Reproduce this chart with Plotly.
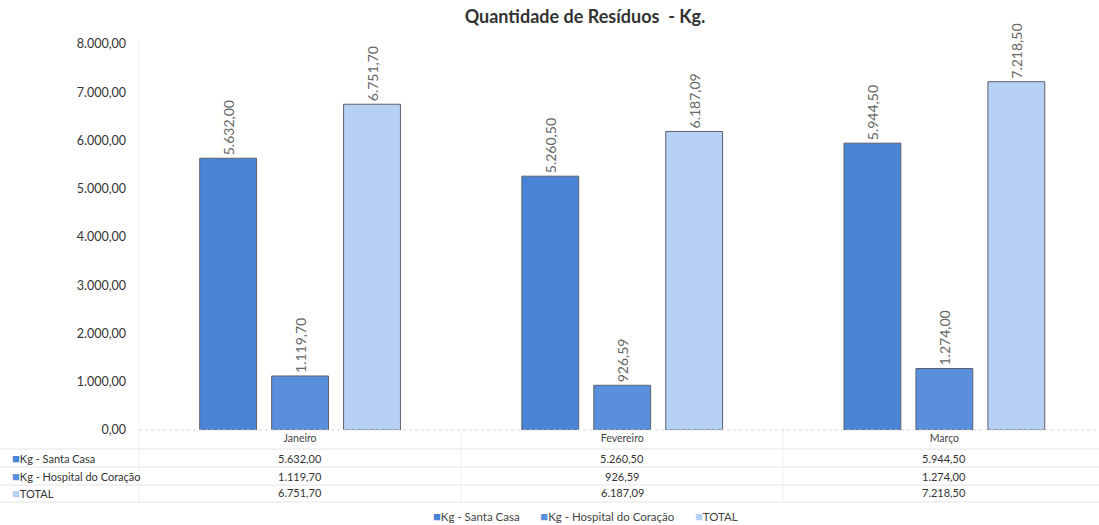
import plotly.graph_objects as go

categories = ["Janeiro", "Fevereiro", "Março"]
santa_casa = [5632.00, 5260.50, 5944.50]
hospital_coracao = [1119.70, 926.59, 1274.00]
total = [6751.70, 6187.09, 7218.50]
series_names = ["Kg - Santa Casa", "Kg - Hospital do Coração", "TOTAL"]
series_values = [santa_casa, hospital_coracao, total]
tick_vals = [0, 1000, 2000, 3000, 4000, 5000, 6000, 7000, 8000]
title_text = "Quantidade de Resíduos  - Kg."

colors = ["#4a84d6", "#5a8fdc", "#b6d1f4"]
FONT = "Lato, 'Open Sans', sans-serif"

W, H = 1099, 525
ML, MR, MT, MB = 139, 0, 44, 95
plot_h = H - MT - MB


def py(pix):
    """pixel y (from top) -> paper y"""
    return (H - MB - pix) / plot_h


def px(pix):
    return (pix - ML) / (W - ML - MR)


def fmt(v):
    s = f"{v:,.2f}"
    return s.replace(",", "X").replace(".", ",").replace("X", ".")


def swatch(col):
    return f"<span style='color:{col};font-size:13px'>■</span>"


fig = go.Figure()
for name, vals, col in zip(series_names, series_values, colors):
    fig.add_trace(go.Bar(
        x=categories, y=vals, name=name,
        marker=dict(color=col, line=dict(color="#5a6070", width=1)),
        text=[fmt(v) for v in vals], textposition="outside",
        textangle=-90, cliponaxis=False,
        textfont=dict(size=14, color="#666666", family=FONT),
    ))

annotations = []
row_y = [458, 476, 493]
for i, (name, vals, col) in enumerate(zip(series_names, series_values, colors)):
    annotations.append(dict(
        x=px(10), y=py(row_y[i]), xref="paper", yref="paper",
        xanchor="left", yanchor="middle", showarrow=False,
        text=f"{swatch(col)}{name}",
        font=dict(size=11, color="#333333", family=FONT),
    ))
    for c, v in zip(categories, vals):
        annotations.append(dict(
            x=c, y=py(row_y[i]), xref="x", yref="paper",
            xanchor="center", yanchor="middle", showarrow=False,
            text=fmt(v), font=dict(size=11, color="#333333", family=FONT),
        ))

# legend as text row
gap = "&nbsp;" * 7
legend_txt = gap.join(f"{swatch(c)}{n}" for n, c in zip(series_names, colors))
annotations.append(dict(
    x=px(585), y=py(516), xref="paper", yref="paper",
    xanchor="center", yanchor="middle", showarrow=False,
    text=legend_txt, font=dict(size=11.5, color="#444444", family=FONT),
))

shapes = []
for yy in [449, 467, 485, 502]:
    shapes.append(dict(type="line", xref="paper", yref="paper",
                       x0=px(0), x1=1, y0=py(yy), y1=py(yy),
                       line=dict(color="#e4e4e4", width=1)))
shapes.append(dict(type="line", xref="paper", yref="paper",
                   x0=0, x1=0, y0=py(502), y1=py(40),
                   line=dict(color="#eeeeee", width=1)))
for xx in [461, 783]:
    shapes.append(dict(type="line", xref="paper", yref="paper",
                       x0=px(xx), x1=px(xx), y0=py(502), y1=py(430),
                       line=dict(color="#f0f0f0", width=1)))
shapes.append(dict(type="line", xref="paper", yref="paper",
                   x0=0, x1=1, y0=0, y1=0,
                   line=dict(color="#d6d6d6", width=1, dash="dot")))

fig.update_layout(
    width=W, height=H,
    margin=dict(l=ML, r=MR, t=MT, b=MB, autoexpand=False),
    paper_bgcolor="white", plot_bgcolor="white",
    separators=",.",
    title=dict(text=f"<b>{title_text}</b>", xref="container", x=585 / W,
               xanchor="center", y=1 - 17 / H, yanchor="middle",
               font=dict(size=18, color="#333333", family=FONT)),
    barmode="group", bargap=0.33, bargroupgap=0.21,
    xaxis=dict(range=[-0.5, 2.48], showgrid=False, showline=False,
               ticks="", automargin=False,
               tickfont=dict(size=10.5, color="#444444", family=FONT)),
    yaxis=dict(range=[0, 8000], tickvals=tick_vals, tickformat=",.2f",
               showgrid=False, zeroline=False, showline=False,
               ticks="", ticklabelstandoff=12, automargin=False,
               tickprefix="<b>", ticksuffix="</b>",
               tickfont=dict(size=12.5, color="#333333", family=FONT)),
    showlegend=False,
    annotations=annotations, shapes=shapes,
)

fig.write_html("out.html", config={"displayModeBar": False},
               post_script="document.body.style.margin='0px';document.body.style.overflow='hidden';")
